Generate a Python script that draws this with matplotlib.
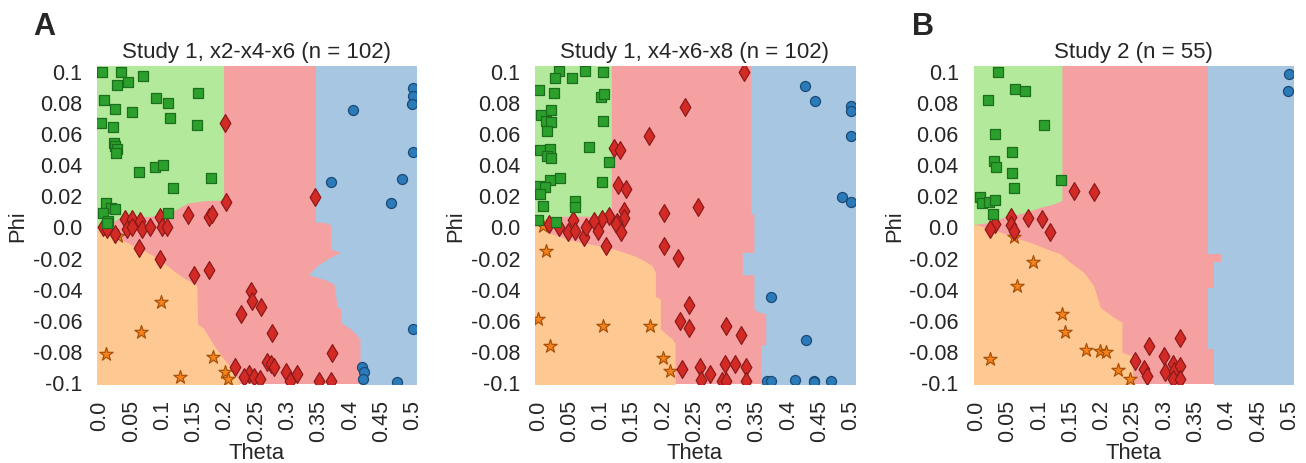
import matplotlib
matplotlib.use("Agg")
import matplotlib.pyplot as plt

plt.rcParams["font.family"] = ["Liberation Sans", "DejaVu Sans"]

# ---- data (theta, phi) ----
# Study 1, x2-x4-x6
p1_squares = [(0.0027, 0.0990), (0.0337, 0.0990), (0.0684, 0.0964), (0.0267, 0.0908), (0.0454, 0.0930),
              (0.0069, 0.0814), (0.0235, 0.0754), (0.0518, 0.0733), (0.0011, 0.0664), (0.0214, 0.0640),
              (0.0892, 0.0823), (0.109, 0.0791), (0.157, 0.0855), (0.112, 0.0695), (0.155, 0.0651),
              (0.0224, 0.0535), (0.024, 0.0515), (0.0278, 0.0497), (0.0256, 0.0472), (0.062, 0.0348),
              (0.088, 0.0380), (0.1004, 0.0395), (0.177, 0.0313), (0.116, 0.0247), (0.0096, 0.0151),
              (0.0171, 0.0121), (0.024, 0.0112), (0.0043, 0.0085), (0.0134, 0.0037), (0.1095, 0.0087),
              (0.0107, 0.0020)]
p1_diamonds = [(0.0053, -0.0005), (0.0107, -0.0016), (0.024, -0.0048), (0.040, 0.0048), (0.0428, -0.0016),
               (0.0508, 0.0048), (0.0508, -0.0005), (0.0641, 0.0037), (0.0668, -0.0016), (0.0801, -0.0005),
               (0.0962, 0.0059), (0.0988, -0.0005), (0.1069, -0.0005), (0.1415, 0.0074), (0.1736, 0.0059),
               (0.179, 0.008), (0.063, -0.014), (0.0962, -0.0209), (0.1496, -0.0311), (0.1736, -0.0277),
               (0.1992, 0.0664), (0.2014, 0.0155), (0.3434, 0.0187), (0.2415, -0.0412), (0.2431, -0.0476),
               (0.2575, -0.0519), (0.2255, -0.0562), (0.2751, -0.0685), (0.3702, -0.0814), (0.2163, -0.0899),
               (0.2377, -0.0946), (0.2297, -0.0968), (0.2457, -0.0968), (0.2564, -0.0979), (0.2671, -0.0872),
               (0.2735, -0.0883), (0.2778, -0.0904), (0.2981, -0.0932), (0.3152, -0.0946), (0.3045, -0.0989),
               (0.3499, -0.0989), (0.3686, -0.0989)]
p1_stars = [(0.0096, -0.0818), (0.0652, -0.0679), (0.0978, -0.0487), (0.1282, -0.0968), (0.1806, -0.0840),
            (0.2003, -0.0936), (0.2040, -0.0979), (0.0294, -0.0063)]
p1_circles = [(0.5, 0.0887), (0.5, 0.0840), (0.4995, 0.0786), (0.4049, 0.0750), (0.5, 0.0476),
              (0.3697, 0.0284), (0.4835, 0.0305), (0.4658, 0.0149), (0.5, -0.0658), (0.4194, -0.0904),
              (0.422, -0.0932), (0.4204, -0.0979), (0.4744, -0.0996)]
p1_green_edge = [(-0.01, 0.0), (0.0, 0.0005), (0.02, 0.003), (0.034, 0.006), (0.08, 0.0065), (0.1, 0.008),
                 (0.12, 0.0105), (0.14, 0.015), (0.166, 0.0165), (0.1976, 0.017)]
p1_orange_edge = [(-0.01, 0.0), (0.0, 0.0), (0.032, -0.008), (0.064, -0.0144), (0.085, -0.0187),
                  (0.107, -0.025), (0.128, -0.0315), (0.155, -0.038), (0.156, -0.0626), (0.165, -0.065),
                  (0.181, -0.0755), (0.195, -0.0835), (0.208, -0.090), (0.222, -0.0985), (0.226, -0.11)]
p1_blue_edge = [(0.11, 0.3446), (0.0027, 0.3446), (0.0027, 0.358), (0.001, 0.3686), (-0.0144, 0.3686),
                (-0.0166, 0.3846), (-0.0209, 0.3633), (-0.0252, 0.3472), (-0.0294, 0.3365), (-0.0311, 0.3339),
                (-0.0326, 0.3472), (-0.0348, 0.3633), (-0.0369, 0.3739), (-0.0519, 0.3793), (-0.0525, 0.3846),
                (-0.0615, 0.3846), (-0.0658, 0.4006), (-0.0701, 0.4113), (-0.0722, 0.4156), (-0.11, 0.4156)]

# Study 1, x4-x6-x8
p2_squares = [(0.0337, 0.1), (0.0262, 0.0951), (0.0534, 0.0953), (0.0743, 0.1), (0.1042, 0.099),
              (0.0021, 0.0876), (0.0246, 0.0857), (0.101, 0.0833), (0.1047, 0.0851), (0.0043, 0.0716),
              (0.0208, 0.0750), (0.0128, 0.0679), (0.0203, 0.0669), (0.0139, 0.0615), (0.1042, 0.0679),
              (0.0032, 0.0493), (0.0182, 0.0497), (0.0139, 0.0455), (0.0203, 0.0440), (0.0817, 0.0508),
              (0.1127, 0.0416), (0.0342, 0.0309), (0.0192, 0.0298), (0.1015, 0.0288), (0.0021, 0.0262),
              (0.0112, 0.0255), (0.0032, 0.0209), (0.0593, 0.0162), (0.0582, 0.0127), (0.0075, 0.0129),
              (0.0005, 0.0042), (0.0288, 0.0027)]
p2_diamonds = [(0.329, 0.099), (0.234, 0.0769), (0.1768, 0.0583), (0.1218, 0.0502), (0.1303, 0.0493),
               (0.1271, 0.0266), (0.1399, 0.0241), (0.2553, 0.0127), (0.2019, 0.0087), (0.1378, 0.0101),
               (0.1138, 0.0065), (0.102, 0.0045), (0.1378, 0.0053), (0.0897, 0.0032), (0.0556, 0.0044),
               (0.1261, 0.0027), (0.0166, 0.0016), (0.0337, -0.0005), (0.047, -0.0037), (0.0582, -0.0027),
               (0.0726, -0.0069), (0.0769, -0.0005), (0.095, -0.0027), (0.125, 0.0016), (0.1325, -0.0037),
               (0.109, -0.0127), (0.2019, -0.0123), (0.2233, -0.0204), (0.2409, -0.0504), (0.2265, -0.0604),
               (0.2409, -0.0653), (0.3, -0.0636), (0.324, -0.0696), (0.2292, -0.0915), (0.258, -0.0904),
               (0.2607, -0.0983), (0.2746, -0.0947), (0.2986, -0.0883), (0.3141, -0.0883), (0.3317, -0.0904),
               (0.3317, -0.0989), (0.2944, -0.0989), (0.3, -0.0989)]
p2_stars = [(0.0085, 0.0001), (0.0128, -0.0155), (0.0005, -0.0594), (0.1036, -0.0636), (0.1784, -0.0636),
            (0.0192, -0.0765), (0.1997, -0.0846), (0.2115, -0.0925)]
p2_circles = [(0.4268, 0.0904), (0.4428, 0.0807), (0.5, 0.0775), (0.5, 0.0743), (0.4995, 0.0583),
              (0.485, 0.0187), (0.5, 0.0159), (0.3718, -0.0450), (0.4279, -0.0728), (0.3665, -0.0989),
              (0.3729, -0.0995), (0.4108, -0.0983), (0.4412, -0.0989), (0.4412, -0.1), (0.4679, -0.0995)]
p2_green_edge = [(-0.01, 0.0), (0.0, 0.001), (0.03, 0.003), (0.035, 0.0065), (0.117, 0.0068)]
p2_orange_edge = [(-0.01, 0.0005), (0.0, 0.0005), (0.014, -0.0037), (0.046, -0.008), (0.067, -0.0102),
                  (0.083, -0.0112), (0.121, -0.0144), (0.137, -0.0166), (0.153, -0.0187), (0.169, -0.0219),
                  (0.182, -0.0251), (0.1875, -0.0294), (0.1875, -0.045), (0.1955, -0.0465), (0.1955, -0.0658),
                  (0.205, -0.069), (0.214, -0.0722), (0.219, -0.075), (0.219, -0.11)]
p2_blue_edge = [(0.11, 0.3397), (0.008, 0.3397), (0.008, 0.345), (-0.0166, 0.345), (-0.0166, 0.3264),
                (-0.031, 0.3264), (-0.031, 0.345), (-0.053, 0.345), (-0.055, 0.352), (-0.056, 0.3638),
                (-0.0755, 0.3638), (-0.0765, 0.3558), (-0.11, 0.3558)]

# Study 2
p3_squares = [(0.0337, 0.099), (0.0614, 0.0883), (0.0780, 0.0868), (0.0187, 0.0814), (0.1068, 0.0654),
              (0.0288, 0.0596), (0.0566, 0.0476), (0.0272, 0.0423), (0.0304, 0.0384), (0.0561, 0.0343),
              (0.0598, 0.0247), (0.1346, 0.0298), (0.0058, 0.0187), (0.009, 0.0151), (0.0197, 0.0159),
              (0.0293, 0.0168), (0.0267, 0.008)]
p3_diamonds = [(0.1549, 0.0230), (0.1869, 0.0224), (0.0545, 0.0059), (0.0817, 0.0055), (0.1036, 0.0048),
               (0.0293, 0.0016), (0.0213, -0.0016), (0.0545, 0.0012), (0.0598, -0.0027), (0.1175, -0.0033),
               (0.2526, -0.0861), (0.275, -0.0769), (0.2681, -0.0915), (0.2724, -0.0957), (0.3002, -0.0833),
               (0.3018, -0.0936), (0.3141, -0.0883), (0.3151, -0.0925), (0.3258, -0.0893), (0.3141, -0.0979),
               (0.3247, -0.0979), (0.3247, -0.0716)]
p3_stars = [(0.0603, -0.0069), (0.0897, -0.0230), (0.0641, -0.0384), (0.1362, -0.0562), (0.1415, -0.0679),
            (0.1747, -0.0793), (0.1976, -0.0797), (0.2072, -0.0808), (0.2259, -0.0919), (0.2457, -0.0979),
            (0.0213, -0.0850)]
p3_circles = [(0.5, 0.0977), (0.4984, 0.087)]
p3_green_edge = [(-0.01, 0.001), (0.0, 0.0015), (0.0213, 0.0027), (0.0427, 0.0059), (0.0667, 0.008),
                 (0.0855, 0.0101), (0.1015, 0.0123), (0.1228, 0.0144), (0.1362, 0.0166)]
p3_orange_edge = [(-0.01, 0.001), (0.0, 0.001), (0.0053, 0.0005), (0.0321, -0.0027), (0.0587, -0.0069),
                  (0.0855, -0.0102), (0.112, -0.0144), (0.1335, -0.0176), (0.1495, -0.023), (0.171, -0.0294),
                  (0.187, -0.038), (0.1976, -0.0519), (0.219, -0.0583), (0.2323, -0.0615), (0.2323, -0.0808),
                  (0.2483, -0.0829), (0.251, -0.11)]
p3_blue_edge = [(0.11, 0.3696), (-0.0176, 0.3696), (-0.0176, 0.39), (-0.0225, 0.39), (-0.0225, 0.3792),
                (-0.0393, 0.3792), (-0.0393, 0.3696), (-0.0786, 0.3696), (-0.0786, 0.3792), (-0.11, 0.3792)]

titles = ["Study 1, x2-x4-x6 (n = 102)", "Study 1, x4-x6-x8 (n = 102)", "Study 2 (n = 55)"]
xticks = [0.0, 0.05, 0.1, 0.15, 0.2, 0.25, 0.3, 0.35, 0.4, 0.45, 0.5]
xtick_labels = ["0.0", "0.05", "0.1", "0.15", "0.2", "0.25", "0.3", "0.35", "0.4", "0.45", "0.5"]
yticks = [0.1, 0.08, 0.06, 0.04, 0.02, 0.0, -0.02, -0.04, -0.06, -0.08, -0.1]
ytick_labels = ["0.1", "0.08", "0.06", "0.04", "0.02", "0.0", "-0.02", "-0.04", "-0.06", "-0.08", "-0.1"]

# colours
bg_green, bg_red, bg_blue, bg_orange = "#b3e99b", "#f5a1a1", "#a6c6e1", "#fdc891"
txt = "#262626"


def draw_panel(ax, squares, diamonds, stars, circles, green_edge, orange_edge, blue_edge, title):
    ax.set_facecolor(bg_red)
    t, p = zip(*green_edge)
    ax.fill_between(t, p, 0.11, color=bg_green, lw=0)
    t, p = zip(*orange_edge)
    ax.fill_between(t, -0.11, p, color=bg_orange, lw=0)
    p, t = zip(*blue_edge)
    ax.fill_betweenx(p, t, 0.52, color=bg_blue, lw=0)

    for pts, mk, s, fc, ec in [(circles, "o", 52, "#2b7bba", "#1b4a75"),
                               (stars, "*", 100, "#f7821b", "#a8520a"),
                               (diamonds, "d", 82, "#d42a26", "#8b1a1a"),
                               (squares, "s", 46, "#2ca02c", "#1b6e1b")]:
        x, y = zip(*pts)
        ax.scatter(x, y, marker=mk, s=s, c=fc, edgecolors=ec, linewidths=0.9, zorder=3)

    ax.set_xlim(-0.0043, 0.5058)
    ax.set_ylim(-0.1011, 0.1032)
    ax.set_xticks(xticks)
    ax.set_xticklabels(xtick_labels, rotation=90, fontsize=15.5)
    ax.set_yticks(yticks)
    ax.set_yticklabels(ytick_labels, fontsize=15.5)
    ax.tick_params(length=0, pad=11, colors=txt)
    for sp in ax.spines.values():
        sp.set_visible(False)
    ax.set_title(title, fontsize=16, color=txt)
    ax.set_xlabel("Theta", fontsize=15.8, color=txt)
    ax.set_ylabel("Phi", fontsize=15.8, color=txt)
    ax.xaxis.set_label_coords(0.5, -0.182)
    ax.yaxis.set_label_coords(-0.216, 0.5)


fig = plt.figure(figsize=(13.06, 4.64), dpi=100)
lefts = [0.0745, 0.4100, 0.7458]
panels = [
    (p1_squares, p1_diamonds, p1_stars, p1_circles, p1_green_edge, p1_orange_edge, p1_blue_edge),
    (p2_squares, p2_diamonds, p2_stars, p2_circles, p2_green_edge, p2_orange_edge, p2_blue_edge),
    (p3_squares, p3_diamonds, p3_stars, p3_circles, p3_green_edge, p3_orange_edge, p3_blue_edge),
]
for left, data, title in zip(lefts, panels, titles):
    ax = fig.add_axes([left, 0.1703, 0.2443, 0.686])
    draw_panel(ax, *data, title)

fig.text(0.0253, 0.9246, "A", fontsize=22, fontweight="bold", color=txt)
fig.text(0.6983, 0.9246, "B", fontsize=22, fontweight="bold", color=txt)

fig.savefig("out.png", dpi=100)
